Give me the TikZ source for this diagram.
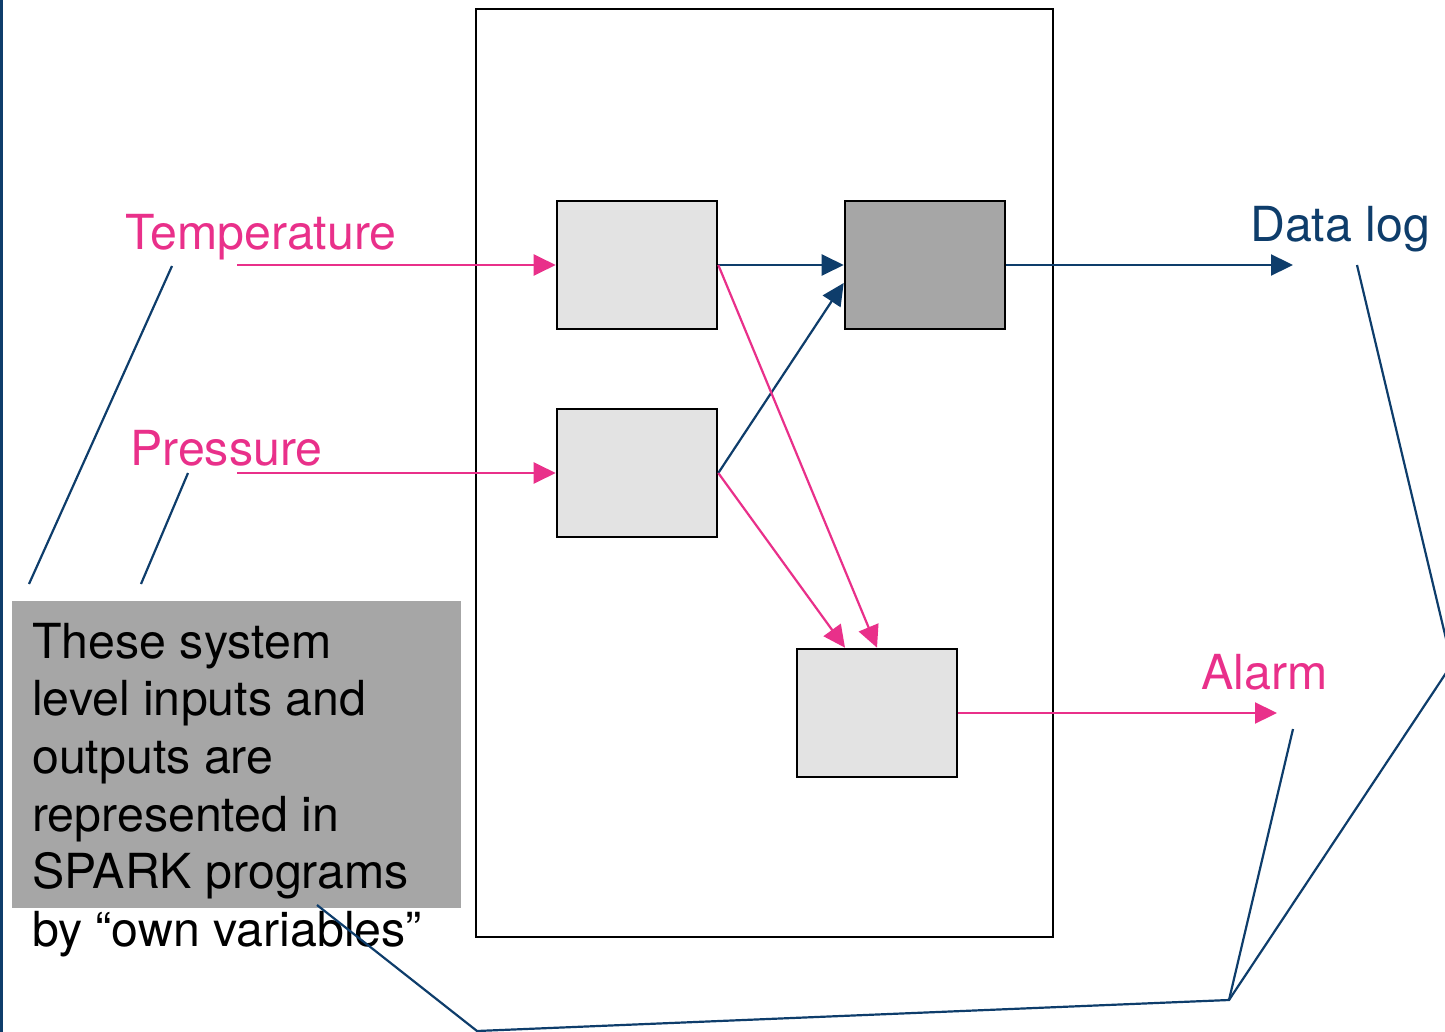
\documentclass[tikz,border=0pt]{standalone}
\usepackage{fontspec}
\setmainfont{TeX Gyre Heros}
\usetikzlibrary{arrows.meta,calc}
\definecolor{sigpink}{RGB}{233,48,138}
\definecolor{navy}{RGB}{14,61,107}
\definecolor{boxlight}{RGB}{227,227,227}
\definecolor{boxdark}{RGB}{166,166,166}

\begin{document}
\begin{tikzpicture}[x=1pt,y=-1pt,
  unit/.style={draw=black, line width=2.6pt, minimum width=160pt,
    minimum height=128pt, inner sep=0pt, fill=boxlight},
  flow/.style={line width=2.2pt, -{Triangle[length=22pt,width=21pt]}},
  pinkflow/.style={flow, color=sigpink},
  navyflow/.style={flow, color=navy},
  lbl/.style={font=\fontsize{48.3}{57.7}\selectfont, inner sep=0pt, anchor=base west},
  callout/.style={navy, line width=2.2pt}
]
\useasboundingbox (0,0) rectangle (1445,1032);
\clip (0,0) rectangle (1445,1032);

% frame edge on the left
\draw[navy, line width=3pt] (1.5,0) -- (1.5,1032);

% system boundary
\node[draw=black, fill=white, line width=2.2pt, minimum width=577pt,
      minimum height=928pt, inner sep=0pt] (sys) at (764.5,473) {};

% processing units
\node[unit] (b1) at (637,265) {};
\node[unit, fill=boxdark] (b2) at (925,265) {};
\node[unit] (b3) at (637,473) {};
\node[unit] (b4) at (877,713) {};

% explanatory note (the base anchor sits on the last line)
\node[fill=boxdark, minimum width=449pt, minimum height=307pt, inner sep=0pt]
  (note) at (236.5,754.5) {};
\node[lbl, align=left, text=black] (notetext) at (32,946.5)
  {These system\\level inputs and\\outputs are\\represented in\\SPARK programs\\by “own variables”};

% signal labels
\node[lbl, text=sigpink] (temp) at (125,250) {Temperature};
\node[lbl, text=sigpink] (pres) at (130,465) {Pressure};
\node[lbl, text=navy] (dlog) at (1250,242) {Data log};
\node[lbl, text=sigpink] (alarm) at (1201,689) {Alarm};

% free ends of the external signals
\coordinate (tin) at (237,265);
\coordinate (pin) at (237,473);
\coordinate (dout) at (1293,265);
\coordinate (aout) at (1277,713);

% signal flow
\draw[pinkflow] (tin) -- (b1.west);
\draw[pinkflow] (pin) -- (b3.west);
\draw[navyflow] (b1.east) -- (b2.west);
\draw[navyflow] (b3.east) -- ($(b2.west)+(0,18)$);
\draw[pinkflow] (b1.east) -- (b4.north);
\draw[pinkflow] (b3.east) -- ($(b4.north)+(-32,0)$);
\draw[navyflow] (b2.east) -- (dout);
\draw[pinkflow] (b4.east) -- (aout);

% callout leaders from the note to the system level signals
\coordinate (tA) at (172,266);
\coordinate (tB) at (29,584);
\coordinate (pA) at (188,473);
\coordinate (pB) at (141,584);
\coordinate (nA) at (317,905);
\coordinate (nB) at (477,1031);
\coordinate (hub) at (1229,1000);
\coordinate (aA) at (1293,729);
\coordinate (dA) at (1357,265);
\coordinate (apex) at (1452,664);

\draw[callout] (tA) -- (tB);
\draw[callout] (pA) -- (pB);
\draw[callout, line join=miter] (nA) -- (nB) -- (hub) -- (apex) -- (dA);
\draw[callout] (hub) -- (aA);
\end{tikzpicture}
\end{document}
